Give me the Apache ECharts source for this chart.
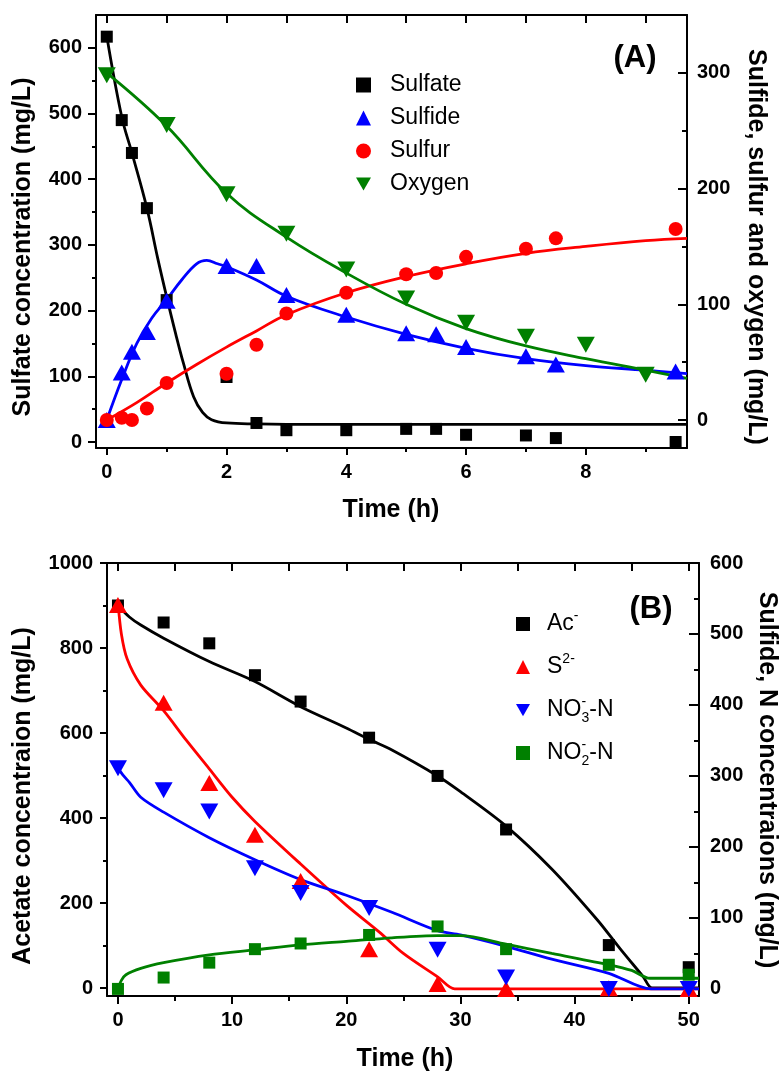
<!DOCTYPE html>
<html>
<head>
<meta charset="utf-8">
<script src="https://cdn.jsdelivr.net/npm/echarts@6.0.0/dist/echarts.min.js"></script>
<style>
  html, body { margin: 0; padding: 0; background: #fff; }
  #chart { width: 780px; height: 1073px; }
</style>
</head>
<body>
<div id="chart"></div>
<script>
// ---------- Panel A: sulfate, sulfide, sulfur and oxygen over time ----------
const timeA    = [0, 0.25, 0.42, 0.67, 1, 2, 2.5, 3, 4, 5, 5.5, 6, 7, 7.5, 9.5];
const sulfate  = [617, 490, 440, 356, 216, 99, 29, 18, 18, 20, 20, 11, 10, 6, 0];
const sulfide  = [0, 41, 59, 76, 103, 133, 133, 108, 91, 75, 74, 63, 55, 48, 42];
const sulfur   = [0, 2, 0, 10, 32, 40, 65, 92, 110, 126, 127, 141, 148, 157, 165];
const timeO2   = [0, 1, 2, 3, 4, 5, 6, 7, 8, 9];
const oxygen   = [298, 255, 195, 161, 130, 105, 84, 72, 65, 39];

// model curves, panel A
const sulfateFitT = [0, 0.25, 0.42, 0.67, 0.85, 1.0, 1.15, 1.28, 1.45, 1.6, 1.75, 2, 2.5, 3, 9.69];
const sulfateFit  = [618, 495, 440, 356, 280, 221, 165, 120, 69, 45, 34, 29, 27.5, 27, 27];
const sulfideFitT = [0, 0.25, 0.5, 0.75, 1, 1.25, 1.5, 1.67, 1.85, 2, 2.5, 3, 4, 5, 6, 7, 8, 9, 9.69];
const sulfideFit  = [0, 35, 66, 88, 104, 121, 135, 138, 135, 132.5, 121, 107, 89, 74, 62, 53, 47, 43, 40];
const sulfurFitT  = [0, 0.5, 1, 1.5, 2, 2.5, 3, 4, 5, 6, 7, 8, 9, 9.69];
const sulfurFit   = [0, 15, 32, 48, 63, 77, 91, 110, 124, 135, 144, 150, 155, 157];
const oxygenFitT  = [0, 1, 2, 3, 4, 5, 6, 7, 8, 9, 9.69];
const oxygenFit   = [300, 254, 196, 158, 127, 100, 79, 64, 53, 43, 36];

// axis ticks, panel A
const ticksTimeA   = [0, 2, 4, 6, 8];
const minorTimeA   = [1, 3, 5, 7, 9];
const topTicksA    = [0, 1, 2, 3, 4, 5, 6, 7, 8, 9];
const ticksLeftA   = [0, 100, 200, 300, 400, 500, 600];
const minorLeftA   = [50, 150, 250, 350, 450, 550];
const ticksRightA  = [0, 100, 200, 300];
const minorRightA  = [50, 150, 250];

// ---------- Panel B: acetate, sulfide, nitrate and nitrite over time ----------
const timeB    = [0, 4, 8, 12, 16, 22, 28, 34, 43, 50];
const acetate  = [900, 860, 811, 736, 674, 589, 499, 373, 101, 49];
const sulfideB = [541, 403, 290, 217, 152, 56, 7, 0, 1, 0];
const nitrate  = [311, 280, 250, 170, 135, 114, 55, 16, 0, 0];
const nitrite  = [0, 16, 37, 56, 64, 76, 88, 56, 34, 20];

// model curves, panel B
const acFitT  = [0, 1, 2, 4, 8, 12, 16, 20, 22, 24, 28, 30, 34, 38, 42, 44, 46, 46.8, 50.9];
const acFit   = [900, 873, 854, 823, 768, 721, 662, 612, 585, 560, 499, 462, 381, 280, 160, 92, 27, 0, 0];
const s2FitT  = [0, 0.3, 0.8, 2, 4, 6, 8, 10, 12, 16, 20, 22.9, 25, 28, 29.5, 30.5, 50.9];
const s2Fit   = [545, 500, 465, 428, 392, 350, 310, 270, 236, 176, 118, 80, 50, 17, 0, 0, 0];
const no3FitT = [0, 0.5, 1, 2, 4, 8, 12, 16, 20, 24, 28, 30, 34, 38, 43, 46.7, 47.5, 50.9];
const no3Fit  = [311, 300, 291, 270, 249, 213, 182, 154, 132, 108, 82, 76, 60, 42, 22, 0, 0, 0];
const no2FitT = [0, 0.3, 0.7, 2, 4, 8, 12, 16, 20, 24, 28, 30, 34, 38, 43, 45, 46.6, 47.4, 50.9];
const no2Fit  = [0, 12, 20, 29, 37, 48, 55, 62, 67, 72, 75, 75, 63, 50, 34, 26, 15, 15, 15];

// axis ticks, panel B
const ticksTimeB  = [0, 10, 20, 30, 40, 50];
const minorTimeB  = [5, 15, 25, 35, 45];
const topTicksB   = [0, 5, 10, 15, 20, 25, 30, 35, 40, 45, 50];
const ticksLeftB  = [0, 200, 400, 600, 800, 1000];
const minorLeftB  = [100, 300, 500, 700, 900];
const ticksRightB = [0, 100, 200, 300, 400, 500, 600];
const minorRightB = [50, 150, 250, 350, 450, 550];

// ---------- helpers ----------
const FONT = '"Liberation Sans", Arial, Helvetica, sans-serif';
const pair = (xs, ys) => xs.map((x, i) => [x, ys[i]]);
const DOWN_TRIANGLE = 'path://M0,0L20,0L10,17.5Z';

function axis(o) {
  return {
    type: 'value',
    gridIndex: o.grid,
    position: o.position,
    min: o.min,
    max: o.max,
    axisLine: { show: !!o.line, onZero: false, lineStyle: { color: '#000', width: 2 } },
    axisTick: {
      show: true, inside: !!o.inside, length: o.len,
      customValues: o.ticks,
      lineStyle: { color: '#000', width: 2 }
    },
    axisLabel: o.labels ? {
      show: true, customValues: o.labels, margin: o.margin,
      color: '#000', fontSize: 20, fontWeight: 'bold', fontFamily: FONT,
      formatter: v => String(v)
    } : { show: false },
    splitLine: { show: false },
    minorTick: { show: false },
    splitArea: { show: false }
  };
}

function scatter(name, xs, ys, xi, yi, symbol, size, color, rotate) {
  return {
    type: 'scatter', name, xAxisIndex: xi, yAxisIndex: yi,
    data: pair(xs, ys), symbol, symbolSize: size, symbolRotate: rotate || 0,
    itemStyle: { color, opacity: 1 }, z: 4, silent: true
  };
}

function curve(name, xs, ys, xi, yi, color, smooth) {
  return {
    type: 'line', name, xAxisIndex: xi, yAxisIndex: yi,
    data: pair(xs, ys), showSymbol: false, symbol: 'none', smooth,
    lineStyle: { color, width: 2.8 }, z: 3, silent: true
  };
}

const BLUE = '#0000FF', RED = '#FF0000', GREEN = '#008000', BLACK = '#000000';

const chart = echarts.init(document.getElementById('chart'), null, { renderer: 'canvas' });

const option = {
  animation: false,
  backgroundColor: '#fff',
  grid: [
    { left: 96, top: 15, width: 591, height: 433, containLabel: false },
    { left: 107, top: 563, width: 592, height: 433, containLabel: false }
  ],
  xAxis: [
    // panel A
    axis({ grid: 0, position: 'bottom', min: -0.18, max: 9.69, line: true, len: 7, ticks: ticksTimeA, labels: ticksTimeA, margin: 14 }),
    axis({ grid: 0, position: 'bottom', min: -0.18, max: 9.69, len: 4, ticks: minorTimeA }),
    axis({ grid: 0, position: 'top', min: -0.18, max: 9.69, line: true, inside: true, len: 8, ticks: topTicksA }),
    // panel B
    axis({ grid: 1, position: 'bottom', min: -0.96, max: 50.9, line: true, len: 8, ticks: ticksTimeB, labels: ticksTimeB, margin: 14 }),
    axis({ grid: 1, position: 'bottom', min: -0.96, max: 50.9, len: 5, ticks: minorTimeB }),
    axis({ grid: 1, position: 'top', min: -0.96, max: 50.9, line: true, inside: true, len: 8, ticks: topTicksB })
  ],
  yAxis: [
    // panel A
    axis({ grid: 0, position: 'left', min: -9.1, max: 650, line: true, len: 8, ticks: ticksLeftA, labels: ticksLeftA, margin: 14 }),
    axis({ grid: 0, position: 'left', min: -9.1, max: 650, len: 4, ticks: minorLeftA }),
    axis({ grid: 0, position: 'right', min: -24.2, max: 350, line: true, inside: true, len: 9, ticks: ticksRightA, labels: ticksRightA, margin: 10 }),
    axis({ grid: 0, position: 'right', min: -24.2, max: 350, inside: true, len: 5, ticks: minorRightA }),
    // panel B
    axis({ grid: 1, position: 'left', min: -18.8, max: 1000, line: true, len: 7, ticks: ticksLeftB, labels: ticksLeftB, margin: 14 }),
    axis({ grid: 1, position: 'left', min: -18.8, max: 1000, len: 4, ticks: minorLeftB }),
    axis({ grid: 1, position: 'right', min: -10, max: 600, line: true, inside: true, len: 10, ticks: ticksRightB, labels: ticksRightB, margin: 11 }),
    axis({ grid: 1, position: 'right', min: -10, max: 600, inside: true, len: 5, ticks: minorRightB })
  ],
  legend: [
    {
      orient: 'vertical', left: 351, top: 67, itemWidth: 15, itemHeight: 15, itemGap: 7,
      selectedMode: false,
      data: ['Sulfate', 'Sulfide', 'Sulfur', { name: 'Oxygen', icon: DOWN_TRIANGLE }],
      textStyle: { fontFamily: FONT, fontSize: 23, color: '#000', lineHeight: 26, padding: [0, 0, 0, 14] }
    },
    {
      orient: 'vertical', left: 511, top: 604, itemWidth: 14, itemHeight: 14, itemGap: 13,
      selectedMode: false,
      data: ['Ac-', 'S2-', { name: 'NO3-N', icon: DOWN_TRIANGLE }, 'NO2-N'],
      formatter: function (name) {
        return {
          'Ac-': 'Ac{sup|-}',
          'S2-': 'S{sup|2-}',
          'NO3-N': 'NO{stack|-}{sub|3}-N',
          'NO2-N': 'NO{stack|-}{sub|2}-N'
        }[name];
      },
      textStyle: {
        fontFamily: FONT, fontSize: 23, color: '#000', lineHeight: 30, padding: [0, 0, 0, 12],
        rich: {
          sup:   { fontFamily: FONT, fontSize: 14, color: '#000', lineHeight: 10, verticalAlign: 'top' },
          stack: { fontFamily: FONT, fontSize: 14, color: '#000', lineHeight: 10, verticalAlign: 'top', width: 0.01 },
          sub:   { fontFamily: FONT, fontSize: 14, color: '#000', lineHeight: 10, verticalAlign: 'bottom' }
        }
      }
    }
  ],
  graphic: [
    { type: 'text', x: 23, y: 247, rotation: Math.PI / 2, silent: true,
      style: { text: 'Sulfate concentration (mg/L)', font: 'bold 25px ' + FONT, fill: '#000', align: 'center', verticalAlign: 'middle' } },
    { type: 'text', x: 756, y: 247, rotation: -Math.PI / 2, silent: true,
      style: { text: 'Sulfide, sulfur and oxygen (mg/L)', font: 'bold 25px ' + FONT, fill: '#000', align: 'center', verticalAlign: 'middle' } },
    { type: 'text', x: 391, y: 510, silent: true,
      style: { text: 'Time (h)', font: 'bold 25px ' + FONT, fill: '#000', align: 'center', verticalAlign: 'middle' } },
    { type: 'text', x: 635, y: 58, silent: true,
      style: { text: '(A)', font: 'bold 31px ' + FONT, fill: '#000', align: 'center', verticalAlign: 'middle' } },

    { type: 'text', x: 23, y: 796, rotation: Math.PI / 2, silent: true,
      style: { text: 'Acetate concentraion (mg/L)', font: 'bold 25px ' + FONT, fill: '#000', align: 'center', verticalAlign: 'middle' } },
    { type: 'text', x: 767, y: 780, rotation: -Math.PI / 2, silent: true,
      style: { text: 'Sulfide, N concentraions (mg/L)', font: 'bold 25px ' + FONT, fill: '#000', align: 'center', verticalAlign: 'middle' } },
    { type: 'text', x: 405, y: 1059, silent: true,
      style: { text: 'Time (h)', font: 'bold 25px ' + FONT, fill: '#000', align: 'center', verticalAlign: 'middle' } },
    { type: 'text', x: 651, y: 609, silent: true,
      style: { text: '(B)', font: 'bold 31px ' + FONT, fill: '#000', align: 'center', verticalAlign: 'middle' } }
  ],
  series: [
    // panel A model curves
    curve('Sulfate model', sulfateFitT, sulfateFit, 0, 0, BLACK, 0.4),
    curve('Sulfide model', sulfideFitT, sulfideFit, 0, 2, BLUE, 0.4),
    curve('Sulfur model', sulfurFitT, sulfurFit, 0, 2, RED, 0.4),
    curve('Oxygen model', oxygenFitT, oxygenFit, 0, 2, GREEN, 0.4),
    // panel A measurements
    scatter('Sulfate', timeA, sulfate, 0, 0, 'rect', 12, BLACK),
    scatter('Sulfide', timeA, sulfide, 0, 2, 'triangle', [18, 16], BLUE),
    scatter('Sulfur', timeA, sulfur, 0, 2, 'circle', 14, RED),
    scatter('Oxygen', timeO2, oxygen, 0, 2, 'triangle', [18, 16], GREEN, 180),

    // panel B model curves
    curve('Ac model', acFitT, acFit, 3, 4, BLACK, 0.3),
    curve('S2 model', s2FitT, s2Fit, 3, 6, RED, 0.3),
    curve('NO3 model', no3FitT, no3Fit, 3, 6, BLUE, 0.3),
    curve('NO2 model', no2FitT, no2Fit, 3, 6, GREEN, 0.3),
    // panel B measurements
    scatter('Ac-', timeB, acetate, 3, 4, 'rect', 12, BLACK),
    scatter('S2-', timeB, sulfideB, 3, 6, 'triangle', [18, 16], RED),
    scatter('NO3-N', timeB, nitrate, 3, 6, 'triangle', [18, 16], BLUE, 180),
    scatter('NO2-N', timeB, nitrite, 3, 6, 'rect', 12, GREEN)
  ]
};

chart.setOption(option);
</script>
</body>
</html>
